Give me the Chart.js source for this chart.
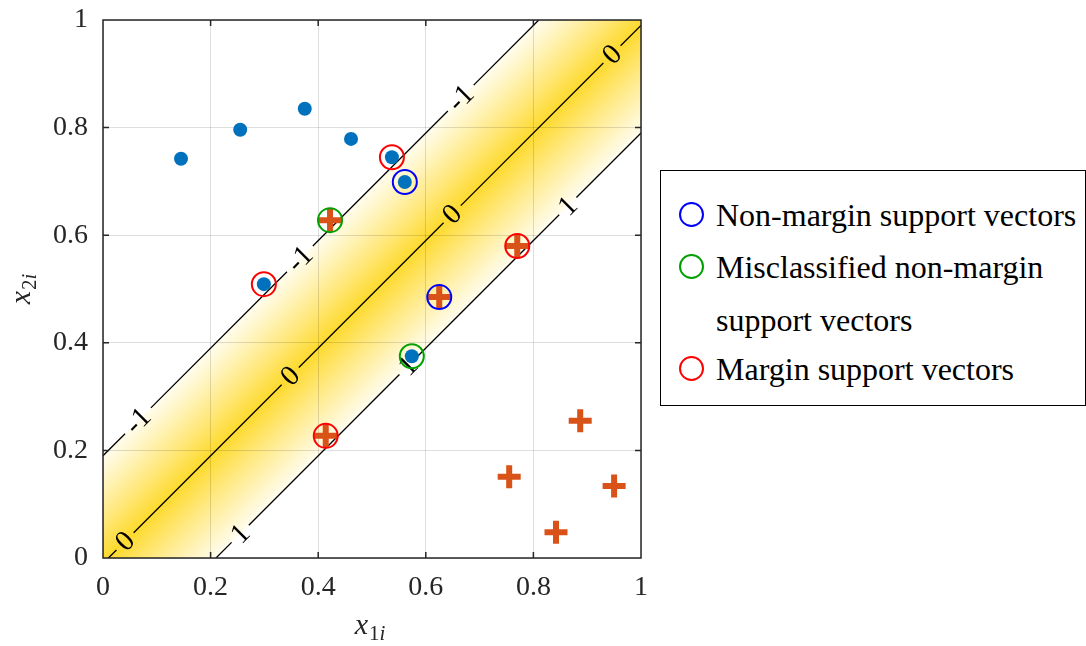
<!DOCTYPE html>
<html>
<head>
<meta charset="utf-8">
<script src="https://cdn.jsdelivr.net/npm/chart.js@4/dist/chart.umd.min.js"></script>
<style>
  body { margin: 0; background: #fff; }
  #wrap { position: relative; width: 1086px; height: 646px; overflow: hidden; }
  #legend {
    position: absolute; left: 660px; top: 170px; width: 426px; height: 236px;
    box-sizing: border-box; border: 1.5px solid #000; background: #fff;
    font-family: "Liberation Serif", "Times New Roman", serif; font-size: 32px; color: #000;
  }
  #legend .row { position: absolute; left: 0; height: 36px; line-height: 36px; white-space: nowrap; }
  #legend .mk { position: absolute; left: 18px; top: 5px; width: 21px; height: 21px; border-radius: 50%; border: 2px solid; }
  #legend .tx { position: absolute; left: 55px; top: 0; }
</style>
</head>
<body>
<div id="wrap">
  <canvas id="myChart" width="1086" height="646"></canvas>
  <div id="legend"></div>
</div>
<script>
// class +1 samples (dots) and class -1 samples (crosses)
var class1X = [0.145, 0.255, 0.375, 0.461, 0.537, 0.561, 0.299, 0.574];
var class1Y = [0.742, 0.796, 0.835, 0.779, 0.745, 0.699, 0.509, 0.375];
var class2X = [0.422, 0.770, 0.625, 0.414, 0.887, 0.755, 0.950, 0.842];
var class2Y = [0.628, 0.580, 0.485, 0.227, 0.255, 0.151, 0.134, 0.048];

// support vectors, circled
var nonMarginX = [0.561, 0.625];
var nonMarginY = [0.699, 0.485];
var misclassX = [0.422, 0.574];
var misclassY = [0.628, 0.375];
var marginX = [0.537, 0.299, 0.770, 0.414];
var marginY = [0.745, 0.509, 0.580, 0.227];

// contour lines of the decision function, null = break for a label
var contourM1 = [[0, 0.19], [0.041, 0.231], null, [0.089, 0.279], [0.342, 0.532], null,
                 [0.390, 0.580], [0.641, 0.831], null, [0.689, 0.879], [0.81, 1.0]];
var contour0 = [[0.01, 0], [0.025, 0.015], null, [0.057, 0.047], [0.332, 0.322], null,
                [0.364, 0.354], [0.633, 0.623], null, [0.665, 0.655], [0.930, 0.920], null,
                [0.962, 0.952], [1, 0.99]];
var contourP1 = [[0.21, 0], [0.239, 0.029], null, [0.271, 0.061], [0.551, 0.341], null,
                 [0.583, 0.373], [0.848, 0.638], null, [0.880, 0.670], [1, 0.79]];

// edges of the shaded band (the -1 and +1 contours)
var bandUpper = [[0, 0.19], [0.81, 1.0]];
var bandLower = [[0.21, 0], [1, 0.79]];

// contour labels
var labelText = ['-1', '-1', '-1', '0', '0', '0', '0', '1', '1', '1'];
var labelX = [0.065, 0.366, 0.665, 0.041, 0.348, 0.649, 0.946, 0.255, 0.567, 0.864];
var labelY = [0.255, 0.556, 0.855, 0.031, 0.338, 0.639, 0.936, 0.045, 0.357, 0.654];

var tickLabels = ['0', '0.2', '0.4', '0.6', '0.8', '1'];

var legendItems = [
    {color: '#0000ff', text: 'Non-margin support vectors', y: 26},
    {color: '#00a000', text: 'Misclassified non-margin', y: 78},
    {color: null, text: 'support vectors', y: 131},
    {color: '#ff0000', text: 'Margin support vectors', y: 180}
];

var SERIF = '"Liberation Serif", "Times New Roman", serif';

function toPoints(xs, ys) {
    return xs.map(function (x, i) { return {x: x, y: ys[i]}; });
}

function toPath(arr) {
    return arr.map(function (p) { return p ? {x: p[0], y: p[1]} : {x: null, y: null}; });
}

// yellow band between the -1 and +1 contours
var bandPlugin = {
    id: 'band',
    beforeDraw: function (chart) {
        var ctx = chart.ctx, a = chart.chartArea;
        var xs = chart.scales.x, ys = chart.scales.y;
        function px(p) { return [xs.getPixelForValue(p[0]), ys.getPixelForValue(p[1])]; }
        var u0 = px(bandUpper[0]), u1 = px(bandUpper[1]);
        var l0 = px(bandLower[0]), l1 = px(bandLower[1]);
        ctx.save();
        ctx.beginPath();
        ctx.rect(a.left, a.top, a.right - a.left, a.bottom - a.top);
        ctx.clip();
        ctx.beginPath();
        ctx.moveTo(a.left, a.bottom);
        ctx.lineTo(u0[0], u0[1]);
        ctx.lineTo(u1[0], u1[1]);
        ctx.lineTo(a.right, a.top);
        ctx.lineTo(l1[0], l1[1]);
        ctx.lineTo(l0[0], l0[1]);
        ctx.closePath();
        ctx.clip();
        // gradient runs across the band, perpendicular to the contours
        var dx = (l0[0] - u0[0]), dy = (l0[1] - u0[1]);
        var nx = 0.7071, ny = 0.7071;
        var d = dx * nx + dy * ny;
        var g = ctx.createLinearGradient(u0[0], u0[1], u0[0] + nx * d, u0[1] + ny * d);
        g.addColorStop(0, 'rgb(255,253,238)');
        g.addColorStop(0.15, 'rgb(255,243,185)');
        g.addColorStop(0.32, 'rgb(255,231,120)');
        g.addColorStop(0.5, 'rgb(253,218,45)');
        g.addColorStop(0.68, 'rgb(255,231,120)');
        g.addColorStop(0.85, 'rgb(255,243,185)');
        g.addColorStop(1, 'rgb(255,253,238)');
        ctx.fillStyle = g;
        ctx.fillRect(a.left, a.top, a.right - a.left, a.bottom - a.top);
        ctx.restore();
    }
};

// rotated numbers on the contours
var contourLabelPlugin = {
    id: 'contourLabels',
    beforeDatasetsDraw: function (chart) {
        var ctx = chart.ctx;
        ctx.save();
        ctx.font = '29px ' + SERIF;
        ctx.fillStyle = '#000';
        ctx.textAlign = 'center';
        ctx.textBaseline = 'middle';
        for (var i = 0; i < labelText.length; i++) {
            var px = chart.scales.x.getPixelForValue(labelX[i]);
            var py = chart.scales.y.getPixelForValue(labelY[i]);
            ctx.save();
            ctx.translate(px, py);
            ctx.rotate(-Math.PI / 4);
            ctx.fillText(labelText[i], 0, 1);
            ctx.restore();
        }
        ctx.restore();
    }
};

// box around axes with inward ticks, axis titles
var boxPlugin = {
    id: 'box',
    afterDatasetsDraw: function (chart) {
        var ctx = chart.ctx, a = chart.chartArea;
        ctx.save();
        ctx.strokeStyle = '#262626';
        ctx.lineWidth = 1.5;
        ctx.strokeRect(a.left, a.top, a.right - a.left, a.bottom - a.top);
        ctx.beginPath();
        for (var i = 1; i < tickLabels.length - 1; i++) {
            var v = parseFloat(tickLabels[i]);
            var px = chart.scales.x.getPixelForValue(v);
            var py = chart.scales.y.getPixelForValue(v);
            ctx.moveTo(px, a.bottom); ctx.lineTo(px, a.bottom - 6);
            ctx.moveTo(px, a.top); ctx.lineTo(px, a.top + 6);
            ctx.moveTo(a.left, py); ctx.lineTo(a.left + 6, py);
            ctx.moveTo(a.right, py); ctx.lineTo(a.right - 6, py);
        }
        ctx.stroke();
        ctx.restore();
    },
    afterDraw: function (chart) {
        var ctx = chart.ctx, a = chart.chartArea;
        function title(sub) {
            ctx.font = 'italic 30px ' + SERIF;
            var w1 = ctx.measureText('x').width;
            ctx.font = '21px ' + SERIF;
            var w2 = ctx.measureText(sub).width;
            ctx.font = 'italic 21px ' + SERIF;
            var w3 = ctx.measureText('i').width;
            var x = -(w1 + w2 + w3 + 1) / 2;
            ctx.textBaseline = 'alphabetic';
            ctx.textAlign = 'left';
            ctx.font = 'italic 30px ' + SERIF;
            ctx.fillText('x', x, 0);
            ctx.font = '21px ' + SERIF;
            ctx.fillText(sub, x + w1 + 1, 6);
            ctx.font = 'italic 21px ' + SERIF;
            ctx.fillText('i', x + w1 + 1 + w2, 6);
        }
        ctx.save();
        ctx.fillStyle = '#262626';
        ctx.translate((a.left + a.right) / 2 - 2, 634);
        title('1');
        ctx.restore();
        ctx.save();
        ctx.fillStyle = '#262626';
        ctx.translate(30, (a.top + a.bottom) / 2);
        ctx.rotate(-Math.PI / 2);
        title('2');
        ctx.restore();
    }
};

function axis(pos) {
    return {
        type: 'linear',
        position: pos,
        min: 0,
        max: 1,
        border: {display: false},
        grid: {color: 'rgba(0,0,0,0.13)', lineWidth: 1, drawTicks: false},
        ticks: {
            stepSize: 0.2,
            padding: pos === 'left' ? 15 : 13,
            color: '#262626',
            font: {family: SERIF, size: 28},
            callback: function (v, i) { return tickLabels[i]; }
        },
        afterFit: function (scale) {
            if (pos === 'left') scale.width = 103; else scale.height = 88;
            scale.paddingTop = 0;
            scale.paddingBottom = 0;
            scale.paddingLeft = 0;
            scale.paddingRight = 0;
        }
    };
}

var ctx = document.getElementById('myChart').getContext('2d');
var myChart = new Chart(ctx, {
    type: 'scatter',
    data: {
        datasets: [{
            label: 'Margin support vectors',
            data: toPoints(marginX, marginY),
            pointStyle: 'circle', pointRadius: 12, borderWidth: 2,
            borderColor: '#ff0000', backgroundColor: 'rgba(0,0,0,0)'
        }, {
            label: 'Misclassified non-margin support vectors',
            data: toPoints(misclassX, misclassY),
            pointStyle: 'circle', pointRadius: 12, borderWidth: 2,
            borderColor: '#00a000', backgroundColor: 'rgba(0,0,0,0)'
        }, {
            label: 'Non-margin support vectors',
            data: toPoints(nonMarginX, nonMarginY),
            pointStyle: 'circle', pointRadius: 12, borderWidth: 2,
            borderColor: '#0000ff', backgroundColor: 'rgba(0,0,0,0)'
        }, {
            label: 'class 1',
            data: toPoints(class1X, class1Y),
            pointStyle: 'circle', pointRadius: 7, borderWidth: 0,
            backgroundColor: 'rgb(0,114,189)'
        }, {
            label: 'class 2',
            data: toPoints(class2X, class2Y),
            pointStyle: 'cross', pointRadius: 11.5, borderWidth: 6,
            borderColor: 'rgb(217,83,25)'
        }, {
            label: '-1',
            data: toPath(contourM1),
            showLine: true, pointRadius: 0, borderWidth: 1.3, borderColor: '#000', spanGaps: false
        }, {
            label: '0',
            data: toPath(contour0),
            showLine: true, pointRadius: 0, borderWidth: 1.3, borderColor: '#000', spanGaps: false
        }, {
            label: '1',
            data: toPath(contourP1),
            showLine: true, pointRadius: 0, borderWidth: 1.3, borderColor: '#000', spanGaps: false
        }]
    },
    options: {
        responsive: false,
        animation: false,
        devicePixelRatio: 1,
        layout: {padding: {top: 20, right: 445, left: 0, bottom: 0}},
        plugins: {legend: {display: false}, tooltip: {enabled: false}},
        scales: {x: axis('bottom'), y: axis('left')}
    },
    plugins: [bandPlugin, contourLabelPlugin, boxPlugin]
});

// legend box on the right
var leg = document.getElementById('legend');
legendItems.forEach(function (it) {
    var row = document.createElement('div');
    row.className = 'row';
    row.style.top = it.y + 'px';
    if (it.color) {
        var mk = document.createElement('span');
        mk.className = 'mk';
        mk.style.borderColor = it.color;
        row.appendChild(mk);
    }
    var tx = document.createElement('span');
    tx.className = 'tx';
    tx.textContent = it.text;
    row.appendChild(tx);
    leg.appendChild(row);
});
</script>
</body>
</html>
